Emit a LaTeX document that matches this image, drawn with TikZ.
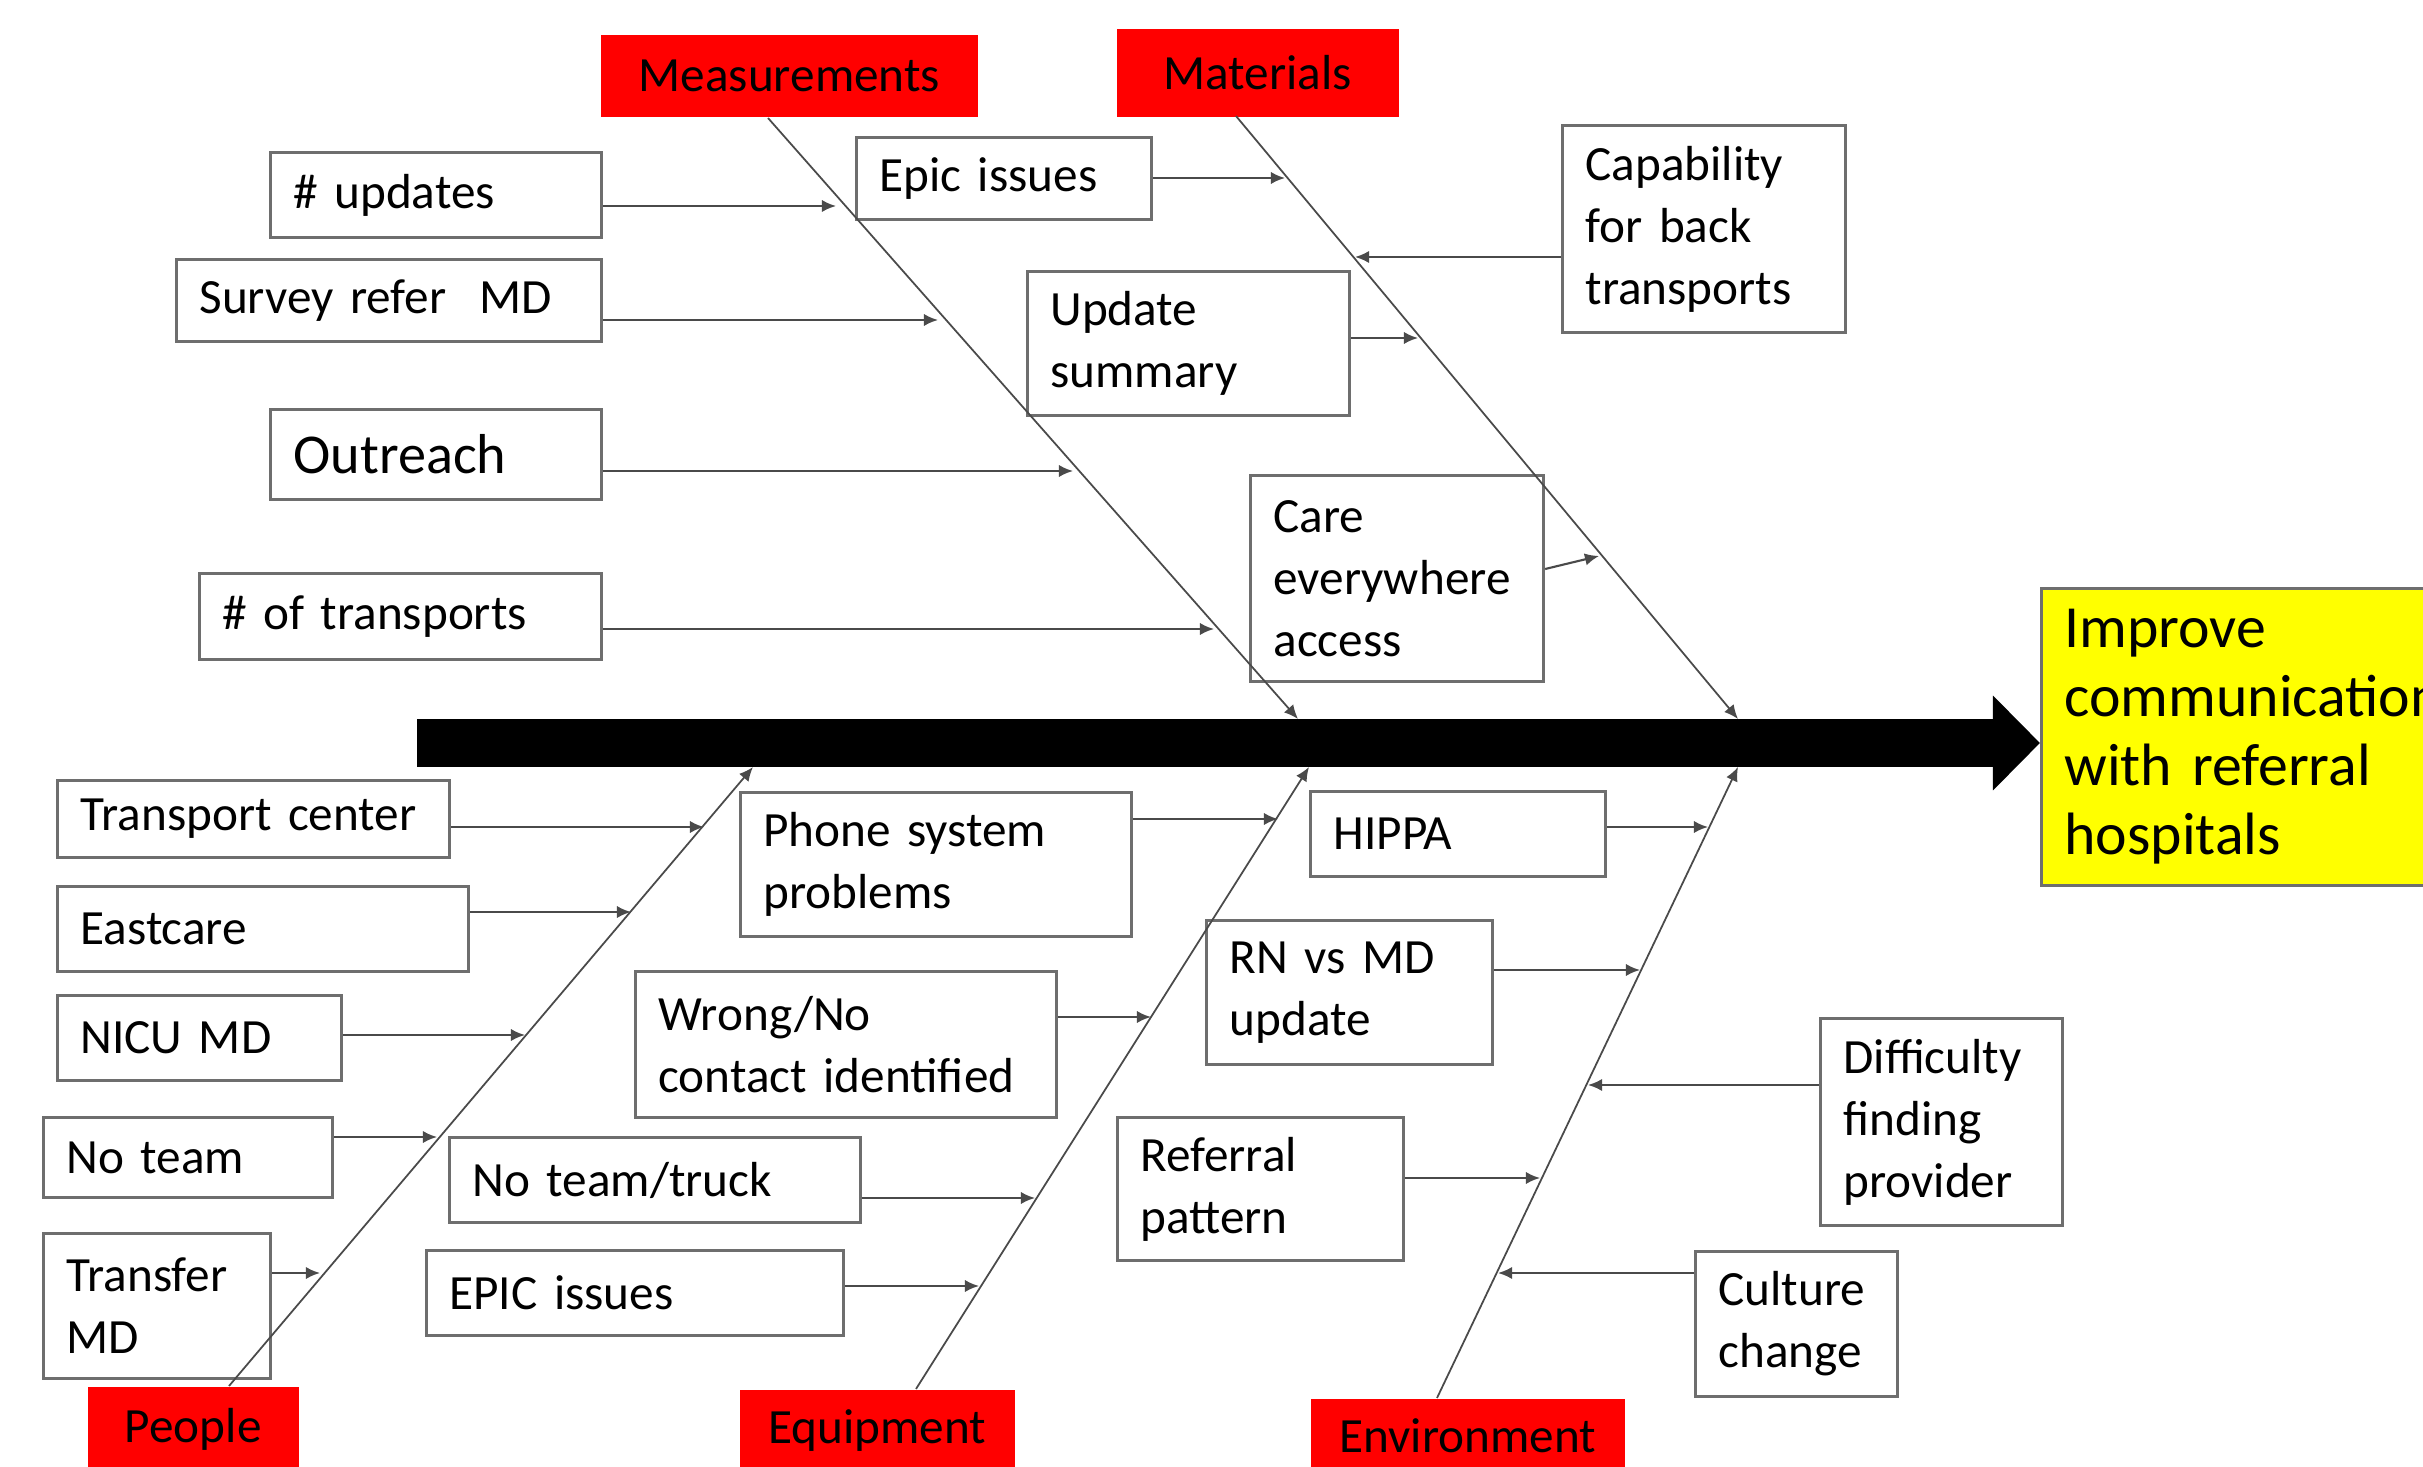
\documentclass[tikz,border=0pt]{standalone}
\usepackage{fontspec}
\setmainfont{Carlito}
\usetikzlibrary{arrows.meta,calc}
\definecolor{boxGray}{HTML}{6E6E6E}
\definecolor{lineGray}{HTML}{4A4A4A}
\definecolor{catRed}{HTML}{FF0000}
\definecolor{goalYellow}{HTML}{FFFF00}
\tikzset{
  causeBox/.style={draw=boxGray, line width=0.85pt, anchor=north west, align=left,
    inner xsep=0.23cm, inner ysep=0pt, font=\fontsize{14}{17.6}\selectfont},
  catBox/.style={fill=catRed, anchor=north west, inner sep=0pt,
    font=\fontsize{14}{17}\selectfont},
  bone/.style={draw=lineGray, line width=0.5pt, -{Latex[length=4pt,width=3.5pt]}},
  feed/.style={draw=lineGray, line width=0.6pt, -{Latex[length=4pt,width=3.5pt]}},
}
\begin{document}
\begin{tikzpicture}[x=0.01cm, y=-0.01cm]
		\useasboundingbox (0,0) rectangle (2423,1467);
		\clip (0,0) rectangle (2423,1467);
		% categories
		\node[catBox, minimum width=3.77cm, minimum height=0.82cm] (meas) at (600,34) {Measurements};
		\node[catBox, minimum width=2.82cm, minimum height=0.88cm] (mat) at (1116,28) {Materials};
		\node[catBox, minimum width=2.11cm, minimum height=0.85cm] (peo) at (87,1386) {People};
		\node[catBox, minimum width=2.75cm, minimum height=0.82cm] (equ) at (739,1389) {Equipment};
		\node[catBox, minimum width=3.14cm, minimum height=0.75cm] (env) at (1310,1398) {Environment};
		% effect and spine
		\node[anchor=north west, fill=goalYellow, draw=boxGray, line width=0.8pt,
			minimum width=4.86cm, minimum height=2.97cm, text width=4.4cm, align=left,
			inner xsep=0.23cm, font=\fontsize{17}{19.6}\selectfont] (goal) at (2040,587)
			{Improve\\communication\\with referral\\hospitals};
		\coordinate (spineTail) at (417,743);
		\draw[line width=0.48cm, -{Triangle[length=0.47cm,width=0.92cm]}] (spineTail) -- (spineTail -| goal.west);
		% causes
		\foreach \n/\x/\y/\w/\h/\txt in {
			upd/269/151/3.31/0.85/{\# updates},
			srv/175/258/4.25/0.82/{Survey refer\ \ MD},
			out/269/408/3.31/0.90/{\fontsize{16}{19}\selectfont Outreach},
			trn/198/572/4.02/0.86/{\# of transports},
			epc/855/136/2.95/0.82/{Epic issues},
			ups/1026/270/3.22/1.44/{Update\\summary},
			care/1249/474/2.93/2.06/{Care\\everywhere\\access},
			cap/1561/124/2.83/2.07/{Capability\\for back\\transports},
			tc/56/779/3.92/0.77/{Transport center},
			ec/56/885/4.11/0.85/{Eastcare},
			nicu/56/994/2.84/0.85/{NICU MD},
			nt/42/1116/2.89/0.80/{No team},
			tmd/42/1232/2.27/1.45/{Transfer\\MD},
			ph/739/791/3.91/1.44/{Phone system\\problems},
			wr/634/970/4.21/1.46/{Wrong/No\\contact identified},
			ntt/448/1136/4.11/0.85/{No team/truck},
			epi/425/1249/4.17/0.85/{EPIC issues},
			hip/1309/790/2.95/0.85/{HIPPA},
			rn/1205/919/2.86/1.44/{RN vs MD\\update},
			ref/1116/1116/2.86/1.43/{Referral\\pattern},
			dif/1819/1017/2.42/2.07/{Difficulty\\finding\\provider},
			cul/1694/1250/2.02/1.45/{Culture\\change}}
		{
			\pgfmathsetmacro\tw{\w-0.46}
			\node[causeBox, minimum width=\w cm, minimum height=\h cm, text width=\tw cm] (\n) at (\x,\y) {\txt};
		}
		% bones
		\coordinate (measTop) at (768,118);
		\coordinate (measEnd) at (1298,719);
		\coordinate (matTop) at (1236,116);
		\coordinate (matEnd) at (1738,719);
		\coordinate (peoBot) at (229,1386);
		\coordinate (peoEnd) at (753,767);
		\coordinate (equBot) at (916,1389);
		\coordinate (equEnd) at (1309,767);
		\coordinate (envBot) at (1437,1398);
		\coordinate (envEnd) at (1738,767);
		\draw[bone] (measTop) -- (measEnd);
		\draw[bone] (matTop) -- (matEnd);
		\draw[bone] (peoBot) -- (peoEnd);
		\draw[bone] (equBot) -- (equEnd);
		\draw[bone] (envBot) -- (envEnd);
		% feeders from the right edge
		\foreach \n/\xe/\ye in {upd/836/206, srv/938/320, out/1073/471, trn/1214/629,
			epc/1285/178, ups/1418/338, tc/704/827, ec/631/912, nicu/525/1035,
			nt/437/1137, tmd/320/1273, ph/1278/819, wr/1151/1017, ntt/1035/1198,
			epi/979/1286, hip/1708/827, rn/1640/970, ref/1540/1178}
		{
			\coordinate (\n-tip) at (\xe,\ye);
			\draw[feed] (\n.east |- \n-tip) -- (\n-tip);
		}
		% feeders from the left edge
		\foreach \n/\xe/\ye in {cap/1355/257, dif/1588/1085, cul/1498/1273}
		{
			\coordinate (\n-tip) at (\xe,\ye);
			\draw[feed] (\n.west |- \n-tip) -- (\n-tip);
		}
		\coordinate (care-out) at (1542,569);
		\coordinate (care-tip) at (1599,556);
		\draw[feed] (care.east |- care-out) -- (care-tip);
	\end{tikzpicture}
\end{document}
